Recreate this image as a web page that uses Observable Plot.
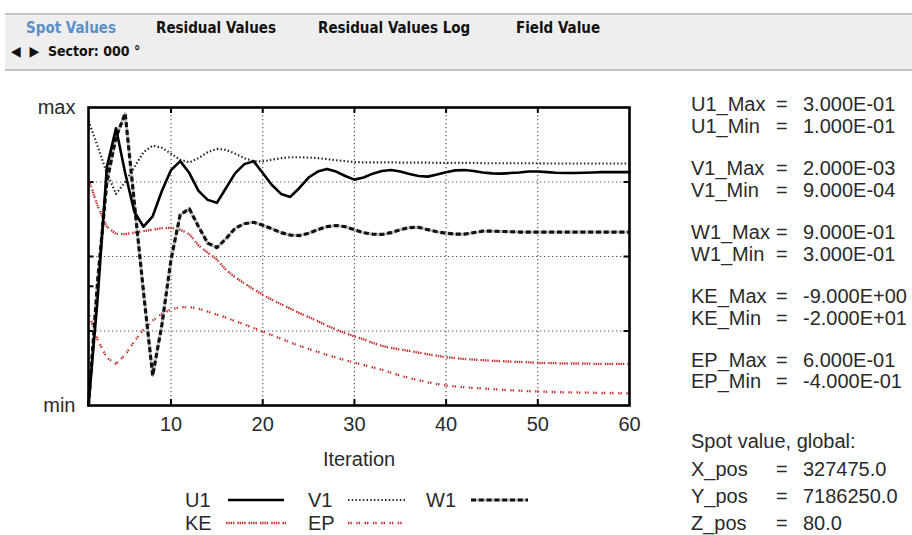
<!DOCTYPE html>
<html><head><meta charset="utf-8">
<script src="https://cdn.jsdelivr.net/npm/d3@7"></script>
<script src="https://cdn.jsdelivr.net/npm/@observablehq/plot@0.6"></script>
<style>
html,body{margin:0;padding:0;background:#fff;}
body{width:912px;height:535px;overflow:hidden;position:relative;font-family:"Liberation Sans",Arial,sans-serif;color:#2a2a2a;}
#bar{position:absolute;left:5px;top:13px;width:907px;height:54px;background:#eeeeee;border-top:2px solid #c4c4c4;border-bottom:2px solid #c4c4c4;}
.tab{position:absolute;top:4px;font-family:"Liberation Sans Narrow","DejaVu Sans Condensed",sans-serif;font-stretch:condensed;font-weight:bold;font-size:15px;color:#111;white-space:pre;}
.tab.active{color:#5a8fc8;}
#sector{position:absolute;left:6px;top:28px;font-family:"Liberation Sans Narrow","DejaVu Sans Condensed",sans-serif;font-stretch:condensed;font-weight:bold;font-size:14px;color:#111;white-space:pre;}
#chart{position:absolute;left:0;top:75px;}
.txt{position:absolute;font-size:20px;line-height:22px;white-space:pre;color:#2a2a2a;}
#legend{position:absolute;left:0;top:481px;}
</style>
</head><body>
<div id="bar"></div>
<div id="chart"></div>
<div id="legend"></div>
<div id="panel"></div>
<script>
// ---- tab bar text
const tabLabels = ["Spot Values", "Residual Values", "Residual Values Log", "Field Value"];
const sectorLabel = "◀  ▶  Sector: 000 °";

// ---- chart data (normalised between min and max)
const iterations = [1,2,3,4,5,6,7,8,9,10,11,12,13,14,15,16,17,18,19,20,21,22,23,24,25,26,27,28,29,30,31,32,33,34,35,36,37,38,39,40,41,42,43,44,45,46,47,48,49,50,51,52,53,54,55,56,57,58,59,60];
const U1 = [0.0,0.36,0.80,0.93,0.78,0.65,0.60,0.635,0.72,0.79,0.82,0.78,0.72,0.69,0.68,0.73,0.78,0.81,0.82,0.78,0.74,0.71,0.70,0.73,0.765,0.785,0.794,0.785,0.77,0.758,0.765,0.778,0.787,0.79,0.785,0.777,0.77,0.768,0.775,0.783,0.789,0.79,0.787,0.782,0.779,0.778,0.78,0.782,0.785,0.785,0.783,0.781,0.78,0.78,0.781,0.782,0.783,0.783,0.783,0.783];
const V1 = [0.955,0.87,0.78,0.71,0.75,0.80,0.85,0.872,0.865,0.845,0.825,0.816,0.83,0.85,0.861,0.858,0.845,0.83,0.82,0.819,0.825,0.83,0.833,0.833,0.832,0.83,0.827,0.823,0.82,0.817,0.816,0.816,0.816,0.816,0.815,0.815,0.815,0.815,0.814,0.814,0.814,0.814,0.814,0.813,0.813,0.813,0.813,0.813,0.813,0.813,0.812,0.812,0.812,0.812,0.812,0.812,0.812,0.812,0.812,0.812];
const W1 = [0.0,0.42,0.75,0.90,0.98,0.68,0.38,0.10,0.27,0.49,0.64,0.66,0.60,0.545,0.53,0.56,0.595,0.61,0.615,0.605,0.593,0.58,0.572,0.57,0.578,0.59,0.60,0.604,0.60,0.59,0.58,0.575,0.574,0.58,0.59,0.597,0.598,0.59,0.583,0.578,0.575,0.575,0.58,0.585,0.585,0.584,0.583,0.582,0.582,0.582,0.582,0.582,0.582,0.582,0.582,0.582,0.582,0.582,0.582,0.582];
const KE = [0.76,0.67,0.60,0.576,0.575,0.58,0.585,0.59,0.595,0.596,0.59,0.575,0.537,0.513,0.49,0.455,0.43,0.41,0.39,0.372,0.355,0.34,0.325,0.31,0.297,0.283,0.268,0.255,0.243,0.232,0.222,0.21,0.2,0.193,0.188,0.183,0.177,0.172,0.167,0.162,0.159,0.156,0.154,0.152,0.15,0.149,0.147,0.146,0.145,0.143,0.142,0.142,0.141,0.141,0.141,0.14,0.14,0.14,0.14,0.14];
const EP = [0.31,0.22,0.16,0.14,0.17,0.215,0.255,0.285,0.308,0.322,0.33,0.33,0.325,0.315,0.305,0.295,0.283,0.272,0.26,0.248,0.236,0.224,0.212,0.2,0.19,0.18,0.17,0.161,0.152,0.144,0.136,0.128,0.12,0.11,0.1,0.092,0.085,0.078,0.072,0.067,0.064,0.061,0.059,0.057,0.055,0.053,0.051,0.05,0.048,0.047,0.046,0.045,0.044,0.044,0.043,0.043,0.042,0.042,0.041,0.041];

const xTickLabels = [10,20,30,40,50,60];
const xGrid = [10,20,30,40,50];
const yGrid = [0.25,0.5,0.75];
const yTicksLeft = [0.25,0.4,0.5,0.75];
const yLabels = {0:"min", 1:"max"};
const xLabel = "Iteration";

// ---- side panel
const statNames = ["U1_Max","U1_Min","V1_Max","V1_Min","W1_Max","W1_Min","KE_Max","KE_Min","EP_Max","EP_Min"];
const statValues = ["3.000E-01","1.000E-01","2.000E-03","9.000E-04","9.000E-01","3.000E-01","-9.000E+00","-2.000E+01","6.000E-01","-4.000E-01"];
const spotTitle = "Spot value, global:";
const spotNames = ["X_pos","Y_pos","Z_pos"];
const spotValues = ["327475.0","7186250.0","80.0"];

// ---- series styles
const RED = "#c42b2b";
const seriesStyles = {
  U1: {stroke:"#000", strokeWidth:2.6},
  V1: {stroke:"#2a2a2a", strokeWidth:2.2, strokeDasharray:"1.5,2.2"},
  W1: {stroke:"#111", strokeWidth:3.2, strokeDasharray:"5,2.8"},
  KE: {stroke:RED, strokeWidth:2.3, strokeDasharray:"1.4,0.9,1.4,0.9,1.4,0.9,1.4,3"},
  EP: {stroke:RED, strokeWidth:2.3, strokeDasharray:"1.4,1,1.4,4.5"}
};

const toRows = vals => iterations.map((it, i) => ({it, v: vals[i]}));

// tab bar
const bar = document.getElementById("bar");
const tabX = [21, 151, 313, 511];
tabLabels.forEach((t, i) => {
  const d = document.createElement("div");
  d.className = "tab" + (i === 0 ? " active" : "");
  d.style.left = tabX[i] + "px";
  d.textContent = t;
  bar.appendChild(d);
});
const sec = document.createElement("div");
sec.id = "sector"; sec.textContent = sectorLabel; bar.appendChild(sec);

// chart
const gridStyle = {stroke:"#555", strokeOpacity:1, strokeWidth:1.2, strokeDasharray:"1.3,2.7"};
const lineOpts = {strokeLinecap:"butt", strokeLinejoin:"round"};
const chart = Plot.plot({
  width: 660, height: 400,
  marginLeft: 88, marginRight: 31, marginTop: 32, marginBottom: 70,
  style: {fontFamily:"Liberation Sans, Arial, sans-serif", fontSize:"20px", color:"#2a2a2a", background:"transparent", overflow:"visible"},
  x: {domain:[1,60]},
  y: {domain:[0,1]},
  marks: [
    Plot.ruleX(xGrid, {...gridStyle}),
    Plot.ruleY(yGrid, {...gridStyle}),
    Plot.ruleX(xGrid, {y1:0, y2:0.02, stroke:"#000", strokeWidth:2}),
    Plot.ruleX(xGrid, {y1:0.98, y2:1, stroke:"#000", strokeWidth:2}),
    Plot.ruleY(yTicksLeft, {x1:1, x2:1.6, stroke:"#000", strokeWidth:2}),
    Plot.ruleY(yGrid, {x1:59.4, x2:60, stroke:"#000", strokeWidth:2}),
    Plot.line(toRows(KE), {x:"it", y:"v", ...lineOpts, ...seriesStyles.KE}),
    Plot.line(toRows(EP), {x:"it", y:"v", ...lineOpts, ...seriesStyles.EP}),
    Plot.line(toRows(V1), {x:"it", y:"v", ...lineOpts, ...seriesStyles.V1}),
    Plot.line(toRows(W1), {x:"it", y:"v", stroke:"#b5b5b5", strokeWidth:2.6}),
    Plot.line(toRows(W1), {x:"it", y:"v", ...lineOpts, ...seriesStyles.W1}),
    Plot.line(toRows(U1), {x:"it", y:"v", ...seriesStyles.U1}),
    Plot.frame({stroke:"#000", strokeWidth:2.6}),
    Plot.axisX(xTickLabels, {anchor:"bottom", tickSize:0, tickPadding:11, label:null, fontSize:20, fill:"#2a2a2a"}),
    Plot.axisY([0,1], {anchor:"left", tickSize:0, tickPadding:13, tickFormat: d => yLabels[d], label:null, fontSize:20, fill:"#2a2a2a"}),
    Plot.text([xLabel], {frameAnchor:"bottom", dy:60, text: d => d, fontSize:20, fill:"#2a2a2a"})
  ]
});
document.getElementById("chart").appendChild(chart);

// legend
const legendItems = [
  {name:"U1", tx:185, lx:228, lw:56, row:0},
  {name:"V1", tx:308, lx:348, lw:57, row:0},
  {name:"W1", tx:426, lx:471, lw:57, row:0},
  {name:"KE", tx:185, lx:226, lw:60, row:1},
  {name:"EP", tx:308, lx:348, lw:57, row:1}
];
const lg = d3.select("#legend").append("svg").attr("width", 660).attr("height", 54)
  .style("font-family","Liberation Sans, Arial, sans-serif").style("font-size","20px");
legendItems.forEach(it => {
  const cy = 19 + it.row * 23;
  lg.append("text").attr("x", it.tx).attr("y", cy).attr("dy","0.36em").attr("fill","#2a2a2a").text(it.name);
  const s = seriesStyles[it.name];
  if (it.name === "W1") {
    lg.append("line").attr("x1", it.lx).attr("x2", it.lx+it.lw).attr("y1", cy).attr("y2", cy)
      .attr("stroke","#b5b5b5").attr("stroke-width",2.6);
  }
  lg.append("line").attr("x1", it.lx).attr("x2", it.lx+it.lw).attr("y1", cy).attr("y2", cy)
    .attr("stroke", s.stroke).attr("stroke-width", s.strokeWidth).attr("stroke-dasharray", s.strokeDasharray || null);
});

// side panel
const panel = document.getElementById("panel");
function addText(txt, left, cy) {
  const d = document.createElement("div");
  d.className = "txt"; d.textContent = txt;
  d.style.left = left + "px"; d.style.top = (cy - 11) + "px";
  panel.appendChild(d);
}
const statY = [104,126,168,190,232,254,296,318,360,381];
statNames.forEach((n, i) => {
  addText(n, 691, statY[i]);
  addText("=", 776, statY[i]);
  addText(statValues[i], 803, statY[i]);
});
addText(spotTitle, 691, 441);
const spotY = [469, 496, 523];
spotNames.forEach((n, i) => {
  addText(n, 691, spotY[i]);
  addText("=", 776, spotY[i]);
  addText(spotValues[i], 803, spotY[i]);
});
</script>
</body></html>
